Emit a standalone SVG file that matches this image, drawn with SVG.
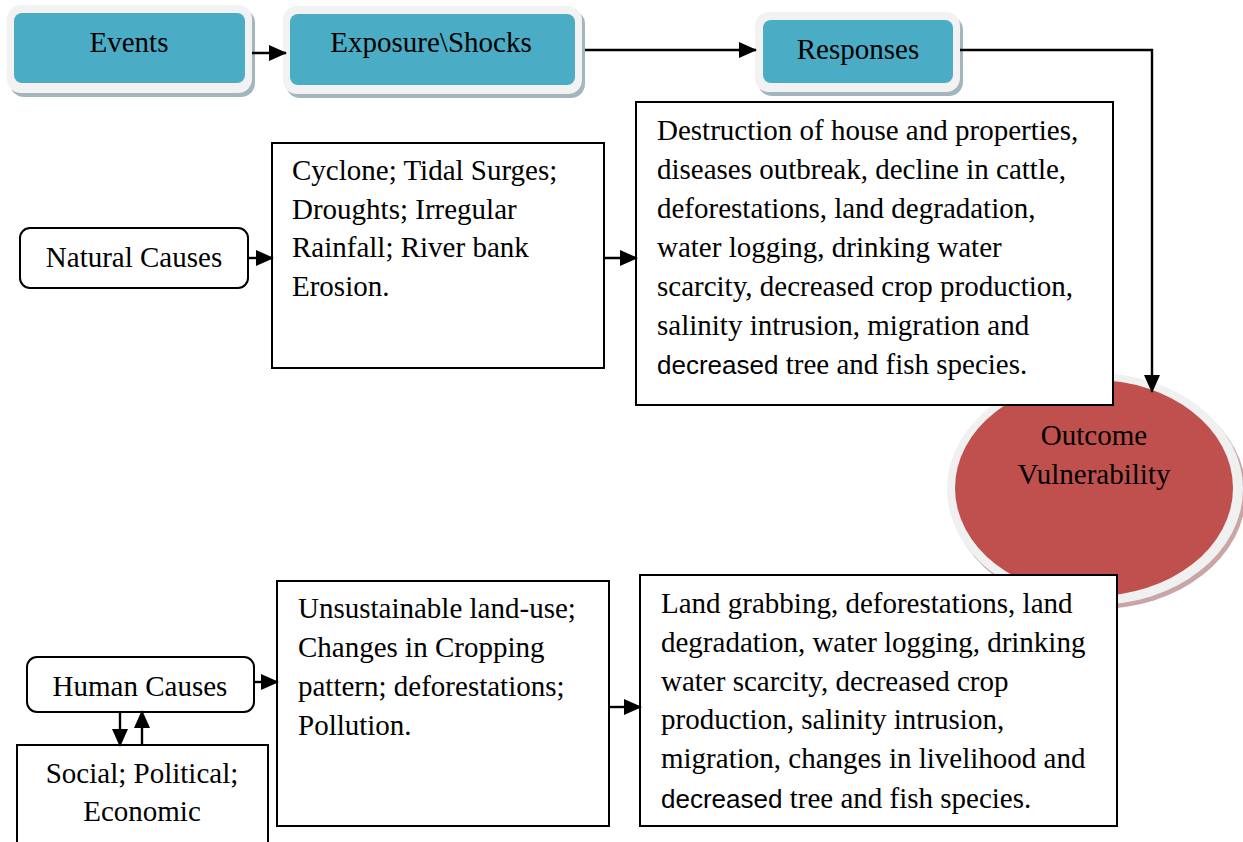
<svg xmlns="http://www.w3.org/2000/svg" width="1243" height="842" viewBox="0 0 1243 842">
<defs>
<marker id="ah" markerWidth="18" markerHeight="16" refX="17" refY="8" orient="auto" markerUnits="userSpaceOnUse">
<path d="M0,0 L18,8 L0,16 Z" fill="#000"/>
</marker>
</defs>
<style>
.t{font-family:"Liberation Serif","Times New Roman",serif;font-size:29px;fill:#000}
.s{font-family:"Liberation Sans",Arial,sans-serif;font-size:26px}
.bx{fill:#fff;stroke:#000;stroke-width:2}
.sh{fill:#a3b6be}
.ou{fill:#f2f2f2}
.in{fill:#4bacc6}
.c{fill:none;stroke:#000;stroke-width:2.4;marker-end:url(#ah)}
</style>
<rect width="1243" height="842" fill="#fff"/>

<g id="outcome">
<ellipse cx="1098" cy="493" rx="148" ry="116" fill="#c9a5a5"/>
<ellipse cx="1095" cy="489" rx="148" ry="116" fill="#f0f0f0"/>
<ellipse cx="1094" cy="488" rx="139" ry="108" fill="#c0504d"/>
<text class="t" x="1094" y="445" text-anchor="middle">Outcome</text>
<text class="t" x="1094" y="484" text-anchor="middle">Vulnerability</text>
</g>

<g id="events">
<rect class="sh" x="10" y="9" width="245" height="88" rx="14"/>
<rect class="ou" x="7" y="5" width="245" height="88" rx="14"/>
<rect class="in" x="14" y="13" width="231" height="70" rx="8"/>
<text class="t" x="129" y="52" text-anchor="middle">Events</text>
</g>
<g id="exposure">
<rect class="sh" x="286" y="10" width="299" height="88" rx="14"/>
<rect class="ou" x="283" y="6" width="299" height="88" rx="14"/>
<rect class="in" x="290" y="14" width="285" height="71" rx="8"/>
<text class="t" x="431" y="52" text-anchor="middle">Exposure\Shocks</text>
</g>
<g id="responses">
<rect class="sh" x="758" y="16" width="205" height="80" rx="14"/>
<rect class="ou" x="755" y="12" width="205" height="80" rx="14"/>
<rect class="in" x="763" y="20" width="190" height="63" rx="8"/>
<text class="t" x="858" y="59" text-anchor="middle">Responses</text>
</g>

<g id="natural">
<rect class="bx" x="20" y="228" width="228" height="60" rx="10"/>
<text class="t" x="134" y="267" text-anchor="middle">Natural Causes</text>
</g>
<g id="natural-exposure">
<rect class="bx" x="272" y="143" width="332" height="225"/>
<text class="t"><tspan x="292" y="180">Cyclone; Tidal Surges;</tspan><tspan x="292" y="219">Droughts; Irregular</tspan><tspan x="292" y="257">Rainfall; River bank</tspan><tspan x="292" y="296">Erosion.</tspan></text>
</g>
<g id="natural-responses">
<rect class="bx" x="636" y="102" width="477" height="303"/>
<text class="t"><tspan x="657" y="140">Destruction of house and properties,</tspan><tspan x="657" y="179">diseases outbreak, decline in cattle,</tspan><tspan x="657" y="218">deforestations, land degradation,</tspan><tspan x="657" y="257">water logging, drinking water</tspan><tspan x="657" y="296">scarcity, decreased crop production,</tspan><tspan x="657" y="335">salinity intrusion, migration and</tspan><tspan x="657" y="374" class="s">decreased</tspan><tspan> tree and fish species.</tspan></text>
</g>

<g id="human">
<rect class="bx" x="27" y="657" width="227" height="55" rx="10"/>
<text class="t" x="140" y="696" text-anchor="middle">Human Causes</text>
</g>
<g id="social">
<rect class="bx" x="17" y="745" width="251" height="110"/>
<text class="t" x="142" y="783" text-anchor="middle">Social; Political;</text>
<text class="t" x="142" y="821" text-anchor="middle">Economic</text>
</g>
<g id="human-exposure">
<rect class="bx" x="277" y="581" width="332" height="245"/>
<text class="t"><tspan x="298" y="618">Unsustainable land-use;</tspan><tspan x="298" y="657">Changes in Cropping</tspan><tspan x="298" y="696">pattern; deforestations;</tspan><tspan x="298" y="735">Pollution.</tspan></text>
</g>
<g id="human-responses">
<rect class="bx" x="640" y="575" width="477" height="251"/>
<text class="t"><tspan x="661" y="613">Land grabbing, deforestations, land</tspan><tspan x="661" y="652">degradation, water logging, drinking</tspan><tspan x="661" y="691">water scarcity, decreased crop</tspan><tspan x="661" y="729">production, salinity intrusion,</tspan><tspan x="661" y="768">migration, changes in livelihood and</tspan><tspan x="661" y="808" class="s">decreased</tspan><tspan> tree and fish species.</tspan></text>
</g>

<g id="connectors">
<path class="c" d="M252,53 H286"/>
<path class="c" d="M585,50 H756"/>
<path class="c" d="M960,50 H1152 V392"/>
<path class="c" d="M248,258 H273"/>
<path class="c" d="M604,258 H637"/>
<path class="c" d="M254,682 H278"/>
<path class="c" d="M609,707 H641"/>
<path class="c" d="M120,712 V746"/>
<path class="c" d="M142,745 V711"/>
</g>
</svg>
